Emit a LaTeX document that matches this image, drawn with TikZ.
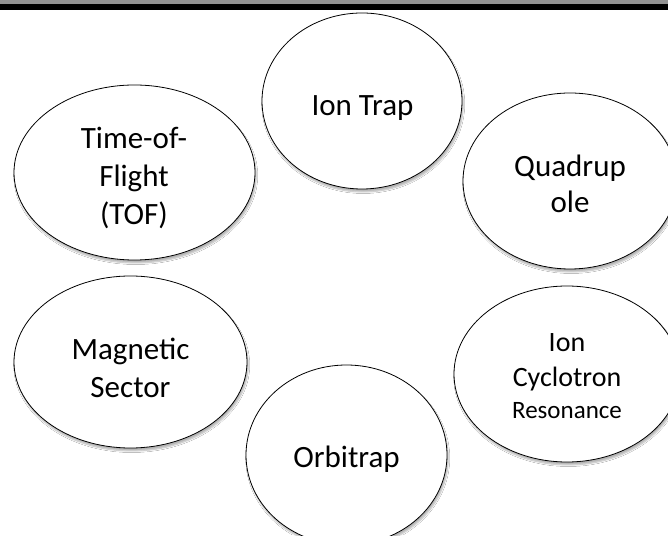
\documentclass[tikz,border=0pt]{standalone}
\usepackage{fontspec}
\setmainfont{Carlito}
\usetikzlibrary{shapes.geometric,shadows.blur}
\definecolor{bargray}{RGB}{147,147,147}
\tikzset{
  oval/.style={ellipse, draw=black, line width=0.8pt, fill=white, inner sep=0pt,
    blur shadow={shadow xshift=1.2pt, shadow yshift=-3pt, shadow blur steps=6, shadow blur radius=1.5pt, shadow opacity=30}},
  txt/.style={align=center, inner sep=0pt, font=\fontsize{31}{38}\selectfont},
}
\begin{document}
\begin{tikzpicture}[x=1pt,y=1pt]
\useasboundingbox (0,0) rectangle (668,535);
\clip (0,0) rectangle (668,535);
\fill[white] (0,0) rectangle (668,535);
\fill[bargray] (0,531) rectangle (668,535);
\fill[black] (0,525) rectangle (668,531);
\node[oval, minimum width=200pt, minimum height=176pt] (iontrap) at (362,434) {};
\node[oval, minimum width=214pt, minimum height=176pt] (quad) at (570,354) {};
\node[oval, minimum width=241pt, minimum height=175pt] (tof) at (134.5,362.5) {};
\node[oval, minimum width=233pt, minimum height=172pt] (mag) at (130.5,173) {};
\node[oval, minimum width=226pt, minimum height=176pt] (icr) at (567,161) {};
\node[oval, minimum width=201pt, minimum height=180pt] (orbi) at (346.5,80) {};
\node[txt] (tIontrap) at ([xshift=0.5pt,yshift=-7pt]iontrap.center) {Ion Trap};
\node[txt] (tQuad) at ([yshift=-3pt]quad.center) {Quadrup\\[-2pt]ole};
\node[txt] (tTof) at ([xshift=-0.5pt,yshift=-5.5pt]tof.center) {Time-of-\\Flight\\(TOF)};
\node[txt] (tMag) at ([yshift=-6pt]mag.center) {Magnetic\\Sector};
\node[txt, font=\fontsize{28}{35}\selectfont] (tIcr) at ([yshift=-2.5pt]icr.center) {Ion\\Cyclotron\\[-3pt]{\fontsize{25}{30}\selectfont Resonance}};
\node[txt] (tOrbi) at ([yshift=-4.5pt]orbi.center) {Orbitrap};
\end{tikzpicture}
\end{document}
